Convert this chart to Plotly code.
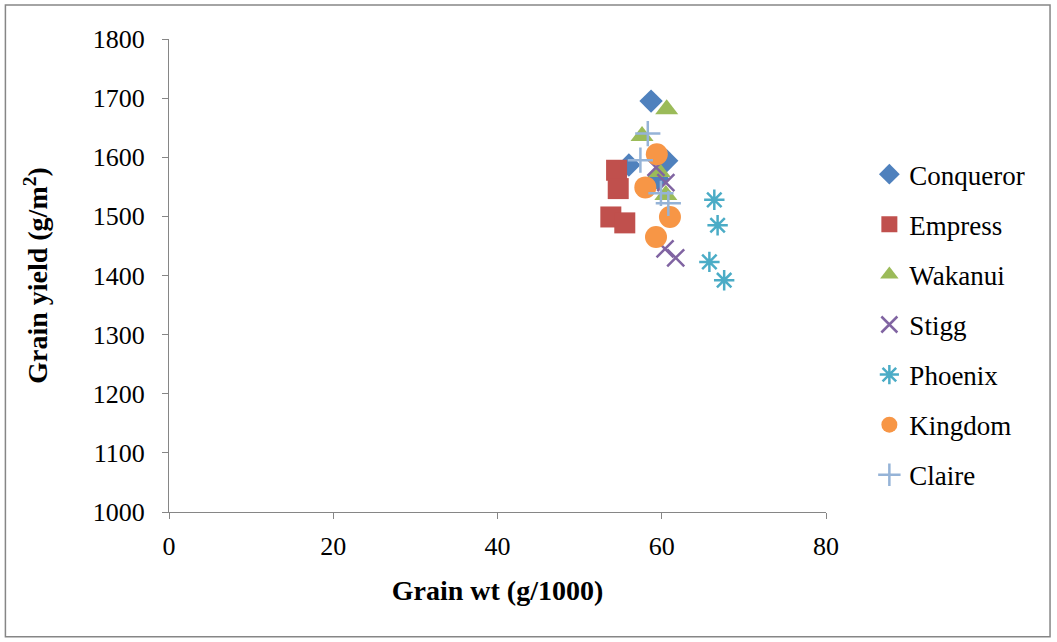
import plotly.graph_objects as go

cultivars = ["Conqueror", "Empress", "Wakanui", "Stigg", "Phoenix", "Kingdom", "Claire"]
grain_wt = {
    "Conqueror": [58.7, 56.0, 60.6, 59.5],
    "Empress":   [54.5, 54.7, 53.8, 55.5],
    "Wakanui":   [60.6, 57.6, 59.7, 60.5],
    "Stigg":     [59.3, 60.5, 60.4, 61.7],
    "Phoenix":   [66.4, 66.8, 65.8, 67.6],
    "Kingdom":   [59.4, 58.0, 61.0, 59.3],
    "Claire":    [58.3, 57.4, 59.9, 60.8],
}
grain_yield = {
    "Conqueror": [1695, 1587, 1594, 1564],
    "Empress":   [1578, 1547, 1499, 1489],
    "Wakanui":   [1681, 1636, 1575, 1536],
    "Stigg":     [1583, 1557, 1445, 1430],
    "Phoenix":   [1528, 1485, 1423, 1392],
    "Kingdom":   [1605, 1549, 1499, 1465],
    "Claire":    [1640, 1595, 1539, 1522],
}
x_ticks = [0, 20, 40, 60, 80]
y_ticks = [1000, 1100, 1200, 1300, 1400, 1500, 1600, 1700, 1800]

styles = {
    "Conqueror": dict(symbol="diamond", color="#4F81BD", size=18, line=dict(width=0)),
    "Empress":   dict(symbol="square", color="#C0504D", size=21, line=dict(width=0)),
    "Wakanui":   dict(symbol="triangle-up", color="#9BBB59", size=20, line=dict(width=0)),
    "Stigg":     dict(symbol="x-thin-open", color="#8064A2", size=17, line=dict(width=2.5, color="#8064A2")),
    "Phoenix":   dict(symbol="asterisk-open", color="#4BACC6", size=17, line=dict(width=2.5, color="#4BACC6")),
    "Kingdom":   dict(symbol="circle", color="#F79646", size=22, line=dict(width=0)),
    "Claire":    dict(symbol="cross-thin-open", color="#95B3D7", size=18, line=dict(width=2.5, color="#95B3D7")),
}

fig = go.Figure()
for c in cultivars:
    fig.add_trace(go.Scatter(
        x=grain_wt[c], y=grain_yield[c], mode="markers", name=c,
        legendgroup=c, marker=styles[c]))

font_family = "Liberation Serif"
fig.update_layout(
    width=1057, height=642,
    paper_bgcolor="white", plot_bgcolor="white",
    margin=dict(l=169, r=231, t=39, b=130),
    font=dict(family=font_family, color="black", size=26),
    showlegend=True,
    legend=dict(x=1.066, y=0.765, xanchor="left", yanchor="top",
                font=dict(family=font_family, size=27),
                tracegroupgap=12, itemsizing="trace"),
    xaxis=dict(range=[0, 80], tickvals=x_ticks, ticks="outside", ticklen=6,
               tickcolor="#868686", showline=True, linecolor="#868686", linewidth=1,
               showgrid=False, zeroline=False,
               tickfont=dict(family=font_family, size=26), ticklabelstandoff=5,
               title=dict(text="<b>Grain wt (g/1000)</b>", font=dict(family=font_family, size=28), standoff=20)),
    yaxis=dict(range=[1000, 1800], tickvals=y_ticks, ticks="outside", ticklen=6,
               tickcolor="#868686", showline=True, linecolor="#868686", linewidth=1,
               showgrid=False, zeroline=False,
               tickfont=dict(family=font_family, size=26), ticklabelstandoff=12,
               title=dict(text="<b>Grain yield (g/m<sup>2</sup>)</b>", font=dict(family=font_family, size=28), standoff=36)),
    shapes=[dict(type="rect", xref="paper", yref="paper",
                 x0=-0.249, x1=1.341, y0=-0.264, y1=1.072,
                 line=dict(color="#868686", width=1.5))],
)

fig.write_html("out.html")
